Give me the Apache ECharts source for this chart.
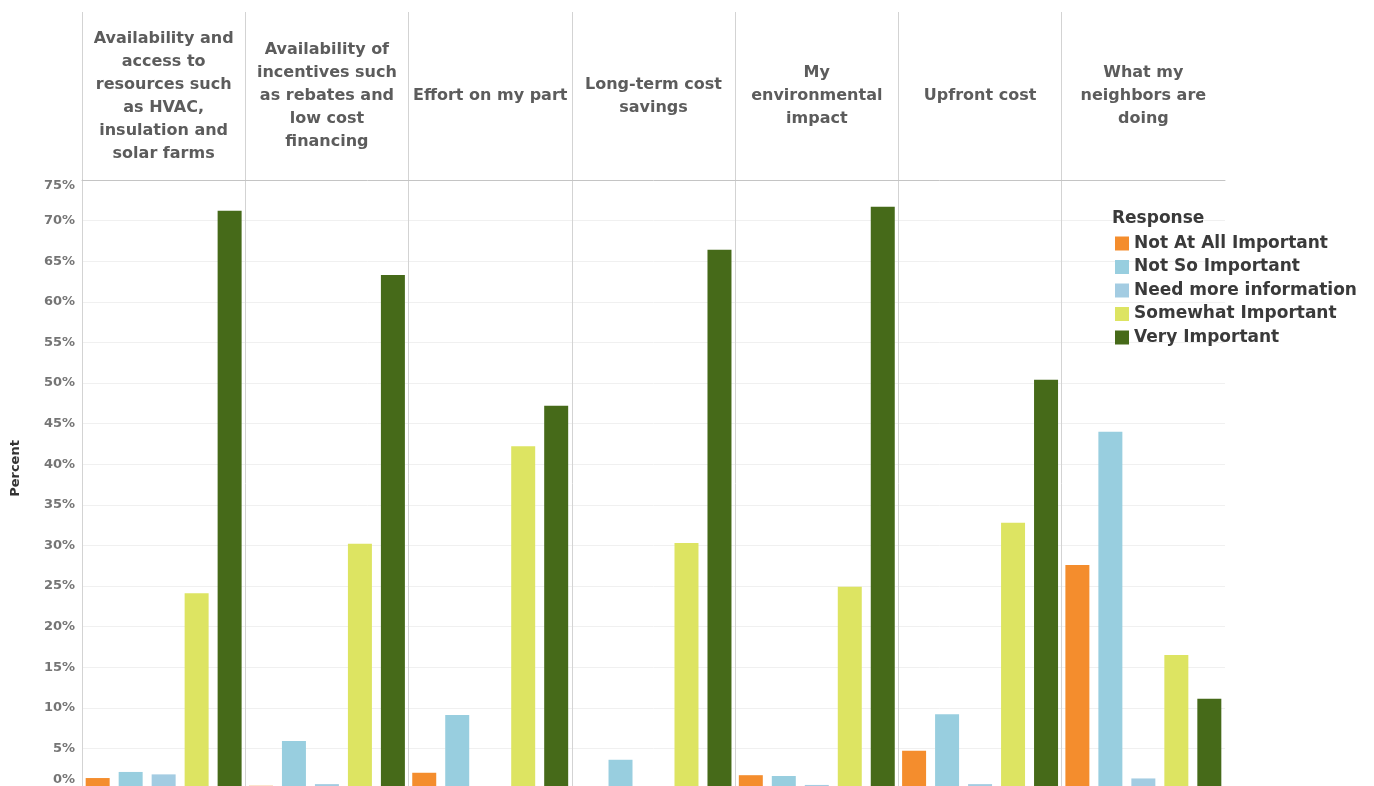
<!DOCTYPE html>
<html>
<head>
<meta charset="utf-8">
<script src="https://cdn.jsdelivr.net/npm/echarts@6/dist/echarts.min.js"></script>
<style>
html,body{margin:0;padding:0;background:#fff;}
#chart{width:1374px;height:786px;}
</style>
</head>
<body>
<div id="chart"></div>
<script>
const categories = [
  "Availability and\naccess to\nresources such\nas HVAC,\ninsulation and\nsolar farms",
  "Availability of\nincentives such\nas rebates and\nlow cost\nfinancing",
  "Effort on my part",
  "Long-term cost\nsavings",
  "My\nenvironmental\nimpact",
  "Upfront cost",
  "What my\nneighbors are\ndoing"
];
const responses = ["Not At All Important","Not So Important","Need more information","Somewhat Important","Very Important"];
const notAtAll    = [1.35, 0.4, 2.0, 0,   1.7, 4.7, 27.6];
const notSo       = [2.1, 5.9, 9.1, 3.6, 1.6, 9.2, 44.0];
const needMore    = [1.8, 0.6, 0,   0,   0.5, 0.6, 1.3];
const somewhat    = [24.1, 30.2, 42.2, 30.3, 24.9, 32.8, 16.5];
const veryImp     = [71.2, 63.3, 47.2, 66.4, 71.7, 50.4, 11.1];
const yTicks = [0,5,10,15,20,25,30,35,40,45,50,55,60,65,70,75];

const colors = ["#F48D2D","#98CEDF","#A3CCE2","#DDE462","#466A19"];
const seriesValues = [notAtAll, notSo, needMore, somewhat, veryImp];

const chart = echarts.init(document.getElementById('chart'));
const FONT = "'DejaVu Sans', sans-serif";

const series = responses.map((name, i) => ({
  name: name,
  type: 'bar',
  xAxisIndex: 0,
  yAxisIndex: 0,
  data: seriesValues[i],
  itemStyle: { color: colors[i] },
  barGap: '37.5%',
  barCategoryGap: '4.5%',
  emphasis: { disabled: true }
}));

chart.setOption({
  animation: false,
  backgroundColor: '#ffffff',
  title: {
    text: 'Response',
    left: 1107, top: 205,
    textStyle: { fontFamily: FONT, fontSize: 17, fontWeight: 'bold', color: '#3a3a3a' }
  },
  legend: {
    orient: 'vertical',
    left: 1110, top: 230,
    itemWidth: 14, itemHeight: 14, itemGap: 6.5,
    icon: 'rect',
    data: responses,
    textStyle: { fontFamily: FONT, fontSize: 17, fontWeight: 'bold', color: '#3a3a3a', lineHeight: 17 }
  },
  grid: [
    { left: 82, right: 149, top: 180, bottom: -3, outerBoundsMode: 'none', containLabel: false },
    { left: 82, right: 149, top: 12, height: 168, outerBoundsMode: 'none', containLabel: false }
  ],
  xAxis: [
    {
      type: 'category', gridIndex: 0, data: categories, position: 'top',
      axisLine: { show: true, onZero: false, lineStyle: { color: '#c4c4c4', width: 1 } },
      axisTick: { show: false },
      axisLabel: {
        show: true, interval: 0, margin: 84, verticalAlign: 'middle',
        fontFamily: FONT, fontSize: 16, fontWeight: 'bold', lineHeight: 23, color: '#5c5c5c', align: 'center'
      },
      splitLine: { show: true, showMaxLine: false, lineStyle: { color: '#d3d3d3', width: 1 } },
      z: 3
    },
    {
      type: 'category', gridIndex: 1, data: categories,
      axisLine: { show: false }, axisTick: { show: false }, axisLabel: { show: false },
      splitLine: { show: true, showMaxLine: false, lineStyle: { color: '#d3d3d3', width: 1 } }
    }
  ],
  yAxis: [
    {
      type: 'value', gridIndex: 0, min: 0, max: 75, interval: 5,
      name: 'Percent', nameLocation: 'middle', nameGap: 60, nameRotate: 90,
      nameTextStyle: { fontFamily: FONT, fontSize: 13, fontWeight: 'bold', color: '#333', padding: [0,0,0,32] },
      axisLine: { show: true, onZero: false, lineStyle: { color: '#c4c4c4' } },
      axisTick: { show: false },
      axisLabel: {
        margin: 7,
        fontFamily: FONT, fontSize: 13, fontWeight: 'bold', color: '#757575',
        formatter: v => {
          if (v === 0) return '{z|' + v + '%}';
          if (v === 75) return '{t|' + v + '%}';
          return v + '%';
        },
        rich: {
          z: { fontFamily: FONT, fontSize: 13, fontWeight: 'bold', color: '#757575', padding: [0,0,18,0] },
          t: { fontFamily: FONT, fontSize: 13, fontWeight: 'bold', color: '#757575', padding: [12,0,0,0] }
        }
      },
      splitLine: { show: true, showMaxLine: false, lineStyle: { color: '#f0f0f0', width: 1 } }
    },
    {
      type: 'value', gridIndex: 1, show: false, min: 0, max: 1,
      splitLine: { show: false }
    }
  ],
  series: series
});
</script>
</body>
</html>
